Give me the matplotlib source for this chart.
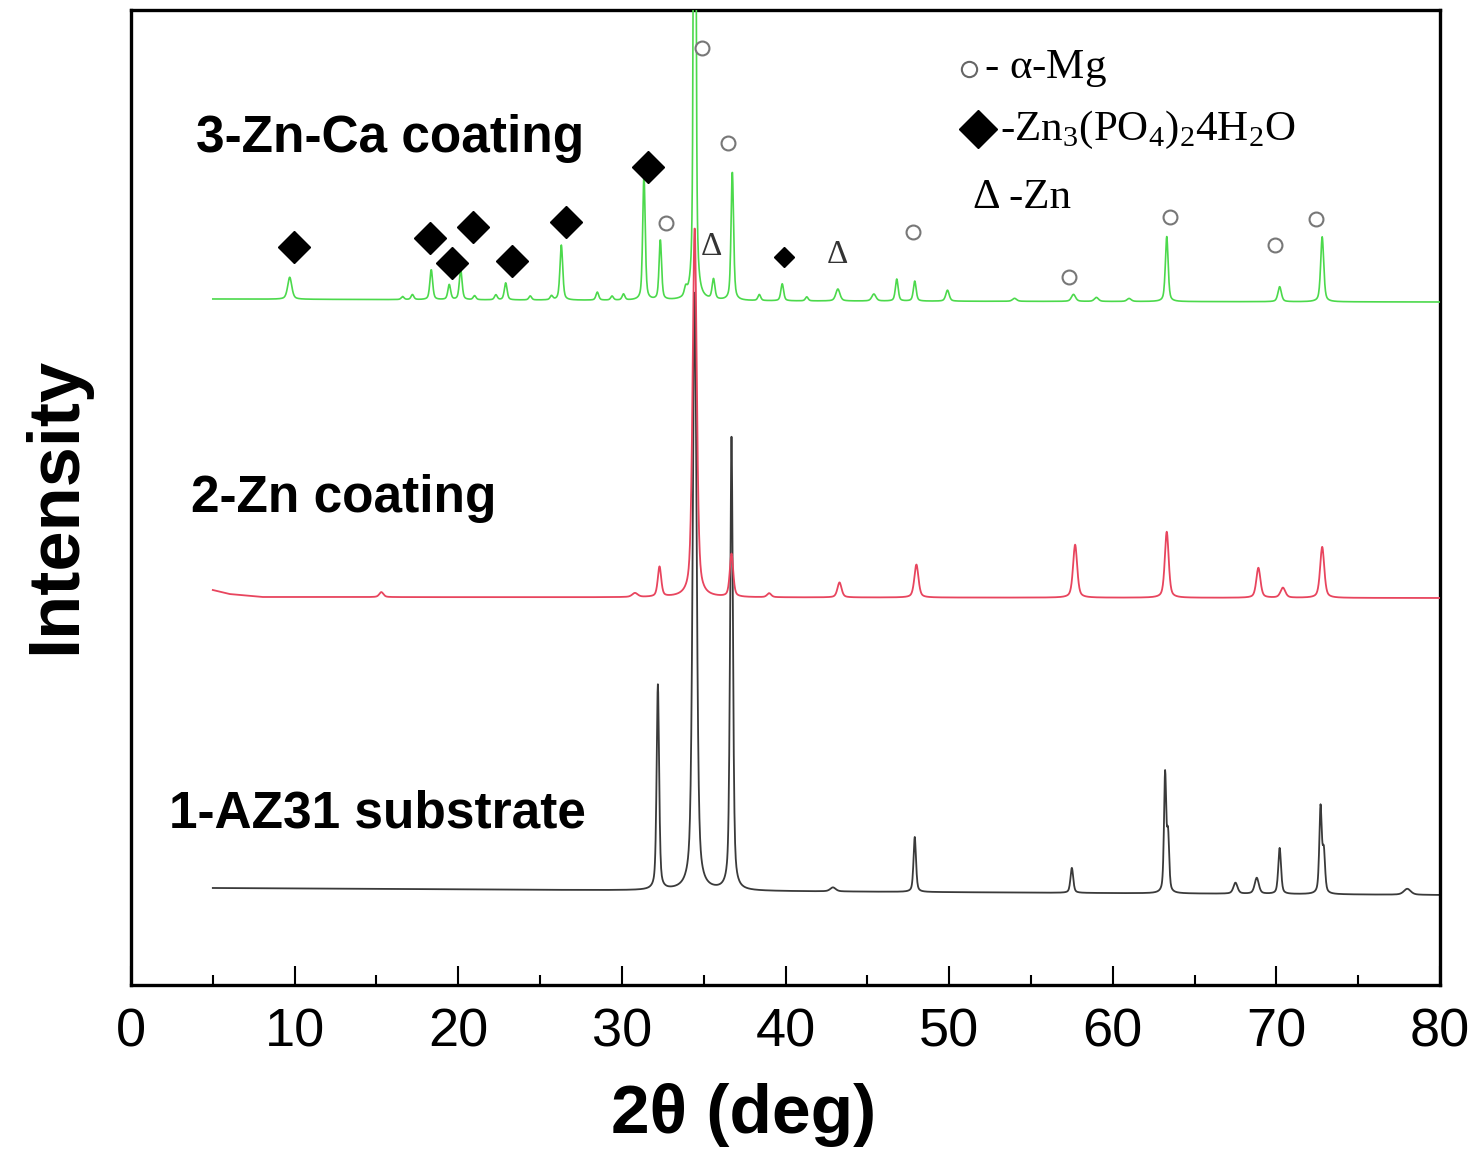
import numpy as np
import matplotlib
matplotlib.use("Agg")
import matplotlib.pyplot as plt

# ─── Data ────────────────────────────────────────────────────────────────────
# 2-theta grid of the scans (deg)
two_theta = np.arange(5.0, 80.0, 0.02)

# baselines (deg, intensity a.u.) per trace
az31_base_x = [5, 80]
az31_base_y = [97, 90]
zn_base_x = [5, 6, 8, 80]
zn_base_y = [395, 391, 388, 387]
znca_base_x = [5, 40, 80]
znca_base_y = [686, 684, 683]

# peaks: position (deg), height above baseline (a.u.), FWHM (deg)
az31_pos = [32.2, 34.45, 36.7, 42.9, 47.9, 57.5, 63.2, 63.38, 67.5, 68.8, 70.2, 72.7, 72.9, 78.0]
az31_hgt = [205, 600, 453, 4, 55, 25, 118, 55, 11, 16, 46, 86, 40, 6]
az31_wid = [0.18, 0.28, 0.2, 0.4, 0.18, 0.2, 0.16, 0.16, 0.3, 0.3, 0.2, 0.18, 0.18, 0.5]

zn_pos = [15.3, 30.8, 32.3, 34.45, 36.7, 39.0, 43.3, 48.0, 57.7, 63.3, 68.9, 70.4, 72.8]
zn_hgt = [5, 4, 30, 370, 43, 4, 15, 33, 53, 66, 30, 10, 51]
zn_wid = [0.3, 0.4, 0.25, 0.3, 0.25, 0.3, 0.3, 0.3, 0.3, 0.28, 0.3, 0.35, 0.3]

znca_pos = [9.7, 16.6, 17.2, 18.35, 19.45, 20.15, 21.0, 22.3, 22.9, 24.4, 25.7, 26.3,
            28.5, 29.4, 30.1, 31.35, 32.35, 33.9, 34.45, 35.6, 36.75, 38.4, 39.8, 41.3,
            43.2, 45.4, 46.8, 47.9, 49.9, 54.0, 57.6, 59.0, 61.0, 63.3, 70.2, 72.8]
znca_hgt = [22, 3, 5, 30, 15, 30, 4, 5, 17, 4, 4, 55,
            8, 4, 6, 125, 60, 8, 1000, 20, 129, 6, 17, 4,
            12, 7, 22, 20, 11, 3, 7, 4, 3, 65, 15, 65]
znca_wid = [0.3, 0.2, 0.2, 0.2, 0.2, 0.2, 0.2, 0.2, 0.2, 0.2, 0.2, 0.2,
            0.2, 0.2, 0.2, 0.18, 0.18, 0.2, 0.14, 0.2, 0.18, 0.2, 0.2, 0.2,
            0.3, 0.3, 0.2, 0.2, 0.25, 0.3, 0.3, 0.3, 0.3, 0.2, 0.25, 0.22]

# phase markers (deg, a.u.)
zn3po4_x = [9.95, 18.3, 19.6, 20.9, 23.3, 26.6, 31.6]
zn3po4_y = [738, 747, 722, 758, 724, 763, 818]
zn3po4_small_x = [39.9]
zn3po4_small_y = [728]
mg_x = [34.9, 36.5, 32.7, 47.8, 57.3, 63.5, 69.9, 72.4]
mg_y = [937, 842, 762, 753, 708, 768, 740, 766]
zn_x = [35.5, 43.2]
zn_y = [738, 730]

trace_labels = ["1-AZ31 substrate", "2-Zn coating", "3-Zn-Ca coating"]
label_x = [2.3, 3.65, 3.95]
label_y = [158, 473, 833]

x_ticks = [0, 10, 20, 30, 40, 50, 60, 70, 80]


def pattern(base_x, base_y, pos, hgt, wid):
    """Baseline plus pseudo-Voigt peaks."""
    y = np.interp(two_theta, base_x, base_y)
    for p, h, w in zip(pos, hgt, wid):
        d = (two_theta - p) / (w / 2)
        y = y + h * (0.5 / (1 + d ** 2) + 0.5 * np.exp(-np.log(2) * d ** 2))
    return y


# ─── Plot ────────────────────────────────────────────────────────────────────
fig = plt.figure(figsize=(14.78, 11.58), dpi=100)
ax = fig.add_axes([131 / 1478, 173 / 1158, 1309 / 1478, 975 / 1158])

sans = "Liberation Sans"
serif = "Liberation Serif"

ax.plot(two_theta, pattern(az31_base_x, az31_base_y, az31_pos, az31_hgt, az31_wid),
        color="#3a3a3a", lw=1.3, zorder=2)
ax.plot(two_theta, pattern(zn_base_x, zn_base_y, zn_pos, zn_hgt, zn_wid),
        color="#e8455e", lw=1.3, zorder=3)
ax.plot(two_theta, pattern(znca_base_x, znca_base_y, znca_pos, znca_hgt, znca_wid),
        color="#4cd94c", lw=1.2, zorder=4)

ax.plot(zn3po4_x, zn3po4_y, "D", color="black", ms=16, ls="none", zorder=5)
ax.plot(zn3po4_small_x, zn3po4_small_y, "D", color="black", ms=10, ls="none", zorder=5)
ax.plot(mg_x, mg_y, "o", mfc="white", mec="#777777", mew=1.5, ms=10, ls="none", zorder=5)
for zx, zy in zip(zn_x, zn_y):
    ax.text(zx, zy, "Δ", family=serif, fontsize=24, color="#333333",
            ha="center", va="center", zorder=5)

for lab, lx, ly in zip(trace_labels, label_x, label_y):
    ax.text(lx, ly, lab, family=sans, fontweight="bold", fontsize=37,
            ha="left", va="baseline")

# phase key
ax.plot([0.640], [0.940], "o", mfc="white", mec="#666666", mew=1.5, ms=11,
        transform=ax.transAxes)
ax.text(0.652, 0.940, r"- $\mathregular{\alpha}$-Mg", family=serif, fontsize=31,
        ha="left", va="center", transform=ax.transAxes)
ax.plot([0.647], [0.878], "D", color="black", ms=19, transform=ax.transAxes)
ax.text(0.664, 0.877, r"-Zn$_\mathregular{3}$(PO$_\mathregular{4}$)$_\mathregular{2}$4H$_\mathregular{2}$O",
        family=serif, fontsize=31, ha="left", va="center", transform=ax.transAxes)
ax.text(0.643, 0.807, "Δ -Zn", family=serif, fontsize=31,
        ha="left", va="center", transform=ax.transAxes)

ax.set_xlim(0, 80)
ax.set_ylim(0, 975)
ax.set_xticks(x_ticks)
ax.set_xticks(np.arange(5, 80, 10), minor=True)
ax.set_yticks([])
ax.tick_params(axis="x", which="major", direction="in", length=14, width=1.5,
               pad=16, labelsize=39)
ax.tick_params(axis="x", which="minor", direction="in", length=7, width=1.5)
for lbl in ax.get_xticklabels():
    lbl.set_family(sans)
for s in ax.spines.values():
    s.set_linewidth(2.4)

ax.set_xlabel("2θ (deg)", family=sans, fontweight="bold", fontsize=50, labelpad=18)
ax.xaxis.set_label_coords(0.468, -0.101)
ax.set_ylabel("Intensity", family=sans, fontweight="bold", fontsize=52)
ax.yaxis.set_label_coords(-0.031, 0.492)

fig.savefig("out.png", dpi=100)
